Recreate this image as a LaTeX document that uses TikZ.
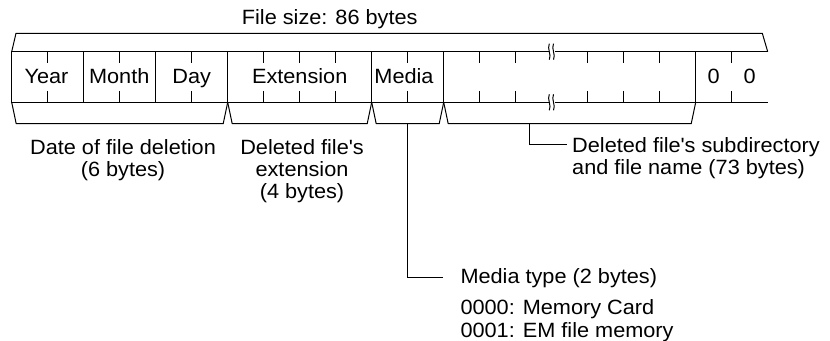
\documentclass[tikz,border=0pt]{standalone}
\usepackage{fontspec}
\setmainfont{Liberation Sans}[FakeStretch=1.05]
\usetikzlibrary{positioning}
\tikzset{every picture/.append style={line width=0.75pt}}
\tikzset{lbl/.style={font=\fontsize{15.5}{16.2}\selectfont, inner sep=0pt}}

\begin{document}
\begin{tikzpicture}[x=0.75pt, y=-0.75pt]
    \useasboundingbox (0,0) rectangle (830,341);
    % record frame, open on the right
    \draw (548.5,51.7) -- (11.7,51.7) -- (11.7,102.3) -- (548.5,102.3);
    \draw (555,51.7) -- (767.7,51.7);
    \draw (555,102.3) -- (767.7,102.3);
    % field dividers
    \foreach \k in {2,4,6,10,12,19}
        \draw (11.7+36*\k,51.7) -- (11.7+36*\k,102.3);
    % byte ticks
    \foreach \k in {1,3,5,7,8,9,11,13,14,16,17,18,20} {
        \draw (11.7+36*\k,51.7) -- ++(0,11);
        \draw (11.7+36*\k,102.3) -- ++(0,-11);
    }
    % break marks
    \foreach \y in {51.7,102.3}
        \foreach \x in {549.3,553.5}
            \draw (\x,\y-8) .. controls (\x-2.5,\y-3) and (\x+2.5,\y+3) .. (\x,\y+8);
    % top brace
    \draw (11.7,51.7) -- (16,33.3) -- (762.3,33.3) -- (767.7,51.7);
    % bottom braces
    \foreach \a/\b in {11.7/227.7, 227.7/371.7, 371.7/443.7, 443.7/695.7}
        \draw (\a,102.3) -- (\a+4.5,123.7) -- (\b-4.5,123.7) -- (\b,102.3);

    \node[lbl, anchor=base] (size) at (329.7,25) {File size: 86 bytes};
    \node[lbl, anchor=base] (year) at (46.5,83.3) {Year};
    \node[lbl, anchor=base] (month) at (119.2,83.3) {Month};
    \node[lbl, anchor=base] (day) at (191.7,83.3) {Day};
    \node[lbl, anchor=base] (ext) at (299.7,83.3) {Extension};
    \node[lbl, anchor=base] (media) at (404,83.3) {Media};
    \node[lbl, anchor=base] (zeroa) at (713.7,83.3) {0};
    \node[lbl, anchor=base] (zerob) at (749.7,83.3) {0};

    \node[lbl, align=center, anchor=north] (date) at (123,139.4) {Date of file deletion\\(6 bytes)};
    \node[lbl, align=center, anchor=north] (extn) at (302,139.4) {Deleted file\textquotesingle s\\extension\\(4 bytes)};
    \node[lbl, align=left, anchor=north west] (fname) at (571.7,137.4) {Deleted file\textquotesingle s subdirectory\\and file name (73 bytes)};
    \node[lbl, anchor=base west] (mtype) at (460,284) {Media type (2 bytes)};
    \node[lbl, align=left, anchor=north west, font=\fontsize{15.5}{17.25}\selectfont] (mcode) at (460,298.9) {0000: Memory Card\\0001: EM file memory};

    % leaders
    \coordinate (namefoot) at (529,123.7);
    \coordinate (nameend) at (566.7,144.3);
    \coordinate (mediafoot) at (407.7,123.7);
    \coordinate (mediaend) at (442.7,277.7);
    \draw (namefoot) |- (nameend);
    \draw (mediafoot) |- (mediaend);
\end{tikzpicture}
\end{document}
